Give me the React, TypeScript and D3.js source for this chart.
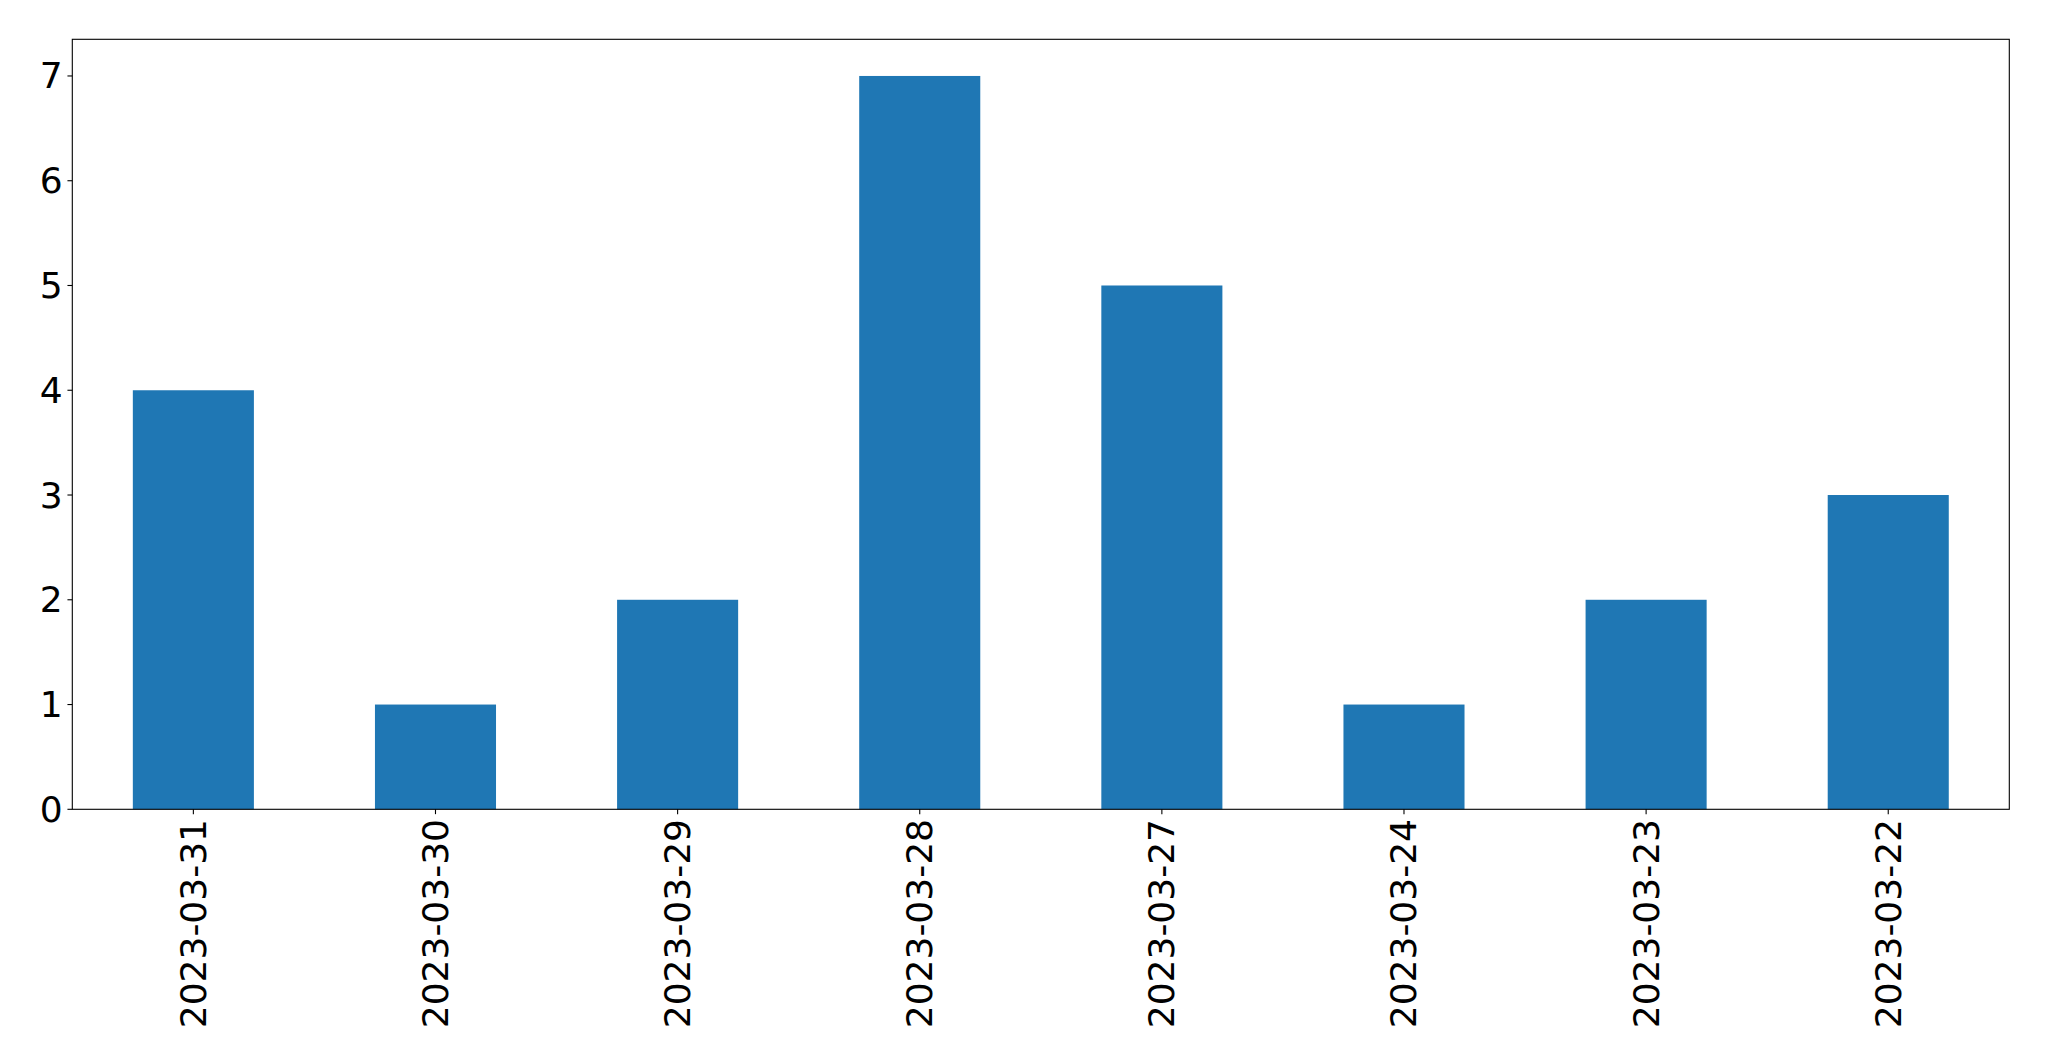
import React from "react";
import * as d3 from "d3";

const categories = ["2023-03-31", "2023-03-30", "2023-03-29", "2023-03-28", "2023-03-27", "2023-03-24", "2023-03-23", "2023-03-22"];
const values = [4, 1, 2, 7, 5, 1, 2, 3];
const yTicks = [0, 1, 2, 3, 4, 5, 6, 7];

const W = 2049, H = 1061;
const L = 72.3, R = 2009.3, T = 39.3, B = 809.3;
const FS = 36;
const tickLen = 4.86, pad = 4.86;

export default function App() {
  const x = d3.scaleLinear().domain([-0.5, categories.length - 0.5]).range([L, R]);
  const y = d3.scaleLinear().domain([0, 7.35]).range([B, T]);
  const bw = x(0.25) - x(-0.25);
  return (
    <svg width={W} height={H} style={{ position: "absolute", left: 0, top: 0, background: "#fff" }}
      fontFamily="DejaVu Sans" fontSize={FS}>
      <rect x={0} y={0} width={W} height={H} fill="#fff" />
      {values.map((v, i) => (
        <rect key={i} x={x(i) - bw / 2} y={y(v)} width={bw} height={y(0) - y(v)} fill="#1f77b4" />
      ))}
      <rect x={L} y={T} width={R - L} height={B - T} fill="none" stroke="#000" strokeWidth={1.1} />
      {yTicks.map((t) => (
        <g key={t}>
          <line x1={L - tickLen} x2={L} y1={y(t)} y2={y(t)} stroke="#000" strokeWidth={1.1} />
          <text x={L - tickLen - pad} y={y(t)} textAnchor="end" dominantBaseline="central" fill="#000">{t}</text>
        </g>
      ))}
      {categories.map((c, i) => (
        <g key={c}>
          <line x1={x(i)} x2={x(i)} y1={B} y2={B + tickLen} stroke="#000" strokeWidth={1.1} />
          <text transform={`translate(${x(i)},${B + tickLen + pad}) rotate(-90)`} textAnchor="end"
            dominantBaseline="central" fill="#000">{c}</text>
        </g>
      ))}
    </svg>
  );
}
